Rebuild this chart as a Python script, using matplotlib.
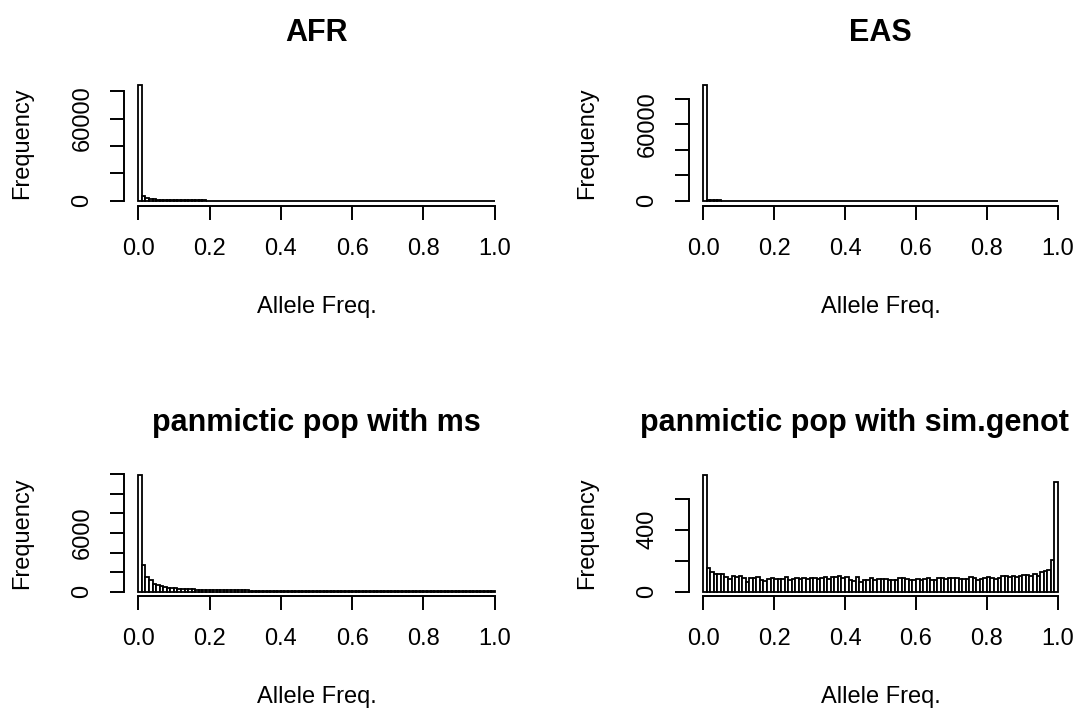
import numpy as np
import matplotlib.pyplot as plt

plt.rcParams['font.family'] = ['Liberation Sans', 'DejaVu Sans']

# histogram breaks: 100 bins of width 0.01 on [0, 1]
bin_width = 0.01
bin_left = np.arange(100) * bin_width

# counts (small tail values are estimates)
afr_counts = [84500, 3700, 2000, 1400, 1050, 850, 700, 600, 520, 460,
              420, 390, 360, 340, 320, 300, 290, 280, 270, 260,
              250, 240, 235, 230, 225, 220, 215, 210, 205, 200,
              198, 196, 194, 192, 190, 188, 186, 184, 182, 180,
              178, 176, 175, 174, 173, 172, 171, 170, 169, 168,
              167, 166, 165, 164, 163, 162, 161, 160, 160, 160,
              160, 160, 160, 160, 160, 160, 160, 160, 160, 160,
              160, 160, 160, 160, 160, 160, 160, 160, 160, 160,
              160, 160, 160, 160, 160, 160, 160, 160, 160, 160,
              160, 160, 160, 160, 160, 160, 160, 170, 180, 200]
eas_counts = [91000, 900, 500, 380, 300, 260, 230, 210, 190, 180,
              170, 160, 150, 145, 140, 135, 130, 125, 120, 118,
              116, 114, 112, 110, 108, 106, 104, 102, 100, 100,
              100, 100, 100, 100, 100, 100, 100, 100, 100, 100,
              100, 100, 100, 100, 100, 100, 100, 100, 100, 100,
              100, 100, 100, 100, 100, 100, 100, 100, 100, 100,
              100, 100, 100, 100, 100, 100, 100, 100, 100, 100,
              100, 100, 100, 100, 100, 100, 100, 100, 100, 100,
              100, 100, 100, 100, 100, 100, 100, 100, 100, 100,
              100, 100, 100, 100, 100, 100, 100, 110, 120, 140]
ms_counts = [11900, 2690, 1500, 1160, 820, 680, 580, 480, 410, 370,
             340, 310, 290, 270, 250, 235, 222, 210, 200, 190,
             182, 175, 168, 162, 156, 150, 145, 140, 136, 132,
             128, 124, 121, 118, 115, 112, 110, 108, 106, 104,
             102, 100, 98, 96, 94, 92, 90, 88, 86, 84,
             82, 80, 79, 78, 77, 76, 75, 74, 73, 72,
             71, 70, 69, 68, 67, 66, 65, 64, 63, 62,
             61, 60, 59, 58, 57, 56, 55, 54, 53, 52,
             52, 51, 51, 50, 50, 49, 49, 48, 48, 47,
             47, 46, 46, 45, 45, 44, 44, 43, 43, 42]
simgenot_counts = [753, 155, 128, 112, 113, 116, 92, 84, 104, 97,
                   100, 86, 62, 90, 86, 92, 78, 72, 84, 86,
                   84, 82, 80, 92, 78, 80, 88, 84, 86, 84,
                   90, 86, 84, 90, 98, 82, 94, 96, 100, 90,
                   92, 76, 72, 92, 64, 74, 78, 86, 76, 80,
                   82, 80, 78, 74, 74, 90, 90, 82, 76, 78,
                   80, 76, 84, 86, 76, 74, 86, 88, 84, 86,
                   88, 90, 80, 82, 84, 92, 90, 74, 84, 90,
                   92, 90, 82, 90, 100, 104, 96, 104, 92, 100,
                   108, 110, 102, 112, 100, 126, 134, 142, 202, 710]

titles = ['AFR', 'EAS', 'panmictic pop with ms', 'panmictic pop with sim.genot']
all_counts = [afr_counts, eas_counts, ms_counts, simgenot_counts]
x_ticks = [0.0, 0.2, 0.4, 0.6, 0.8, 1.0]
y_ticks = [[0, 20000, 40000, 60000, 80000],
           [0, 20000, 40000, 60000, 80000],
           [0, 2000, 4000, 6000, 8000, 10000, 12000],
           [0, 200, 400, 600]]
y_labelled = [[0, 60000], [0, 60000], [0, 6000], [0, 400]]

W, H = 1086, 711
fig = plt.figure(figsize=(W / 100, H / 100), dpi=100)

# plot regions in pixels: left, top, width, height
boxes = [(124, 80.3, 385, 125.2), (689, 80.3, 383, 125.2),
         (124, 470.4, 385, 126), (689, 470.4, 383, 126)]

px = 0.72  # points per pixel at dpi 100
fs = 17

for i, (l, t, w, h) in enumerate(boxes):
    ax = fig.add_axes([l / W, 1 - (t + h) / H, w / W, h / H])
    counts = all_counts[i]
    ax.bar(bin_left, counts, width=bin_width, align='edge',
           color='white', edgecolor='black', linewidth=1.3)
    top = max(counts)
    ax.set_xlim(-0.04, 1.04)
    ax.set_ylim(-0.04 * top, 1.04 * top)

    for s in ['top', 'right']:
        ax.spines[s].set_visible(False)
    ax.spines['left'].set_bounds(y_ticks[i][0], y_ticks[i][-1])
    ax.spines['bottom'].set_bounds(0, 1)
    for s in ['left', 'bottom']:
        ax.spines[s].set_linewidth(1.4)

    ax.set_xticks(x_ticks)
    ax.set_xticklabels([f'{v:.1f}' for v in x_ticks])
    ax.set_yticks(y_ticks[i])
    ax.set_yticklabels([str(v) if v in y_labelled[i] else '' for v in y_ticks[i]],
                       rotation=90, va='center')
    ax.tick_params(direction='out', length=14 * px, width=1.4, labelsize=fs)
    ax.tick_params(axis='x', pad=13)
    ax.tick_params(axis='y', pad=12)

    title_kw = dict(xycoords='axes fraction', textcoords='offset points',
                    fontsize=22, fontweight='bold', va='center')
    if i == 3:
        # title runs off the right edge in the original
        ax.annotate(titles[i], xy=(0, 1), xytext=((640 - l) * px, 47 * px),
                    ha='left', **title_kw)
    else:
        ax.annotate(titles[i], xy=(0.5, 1), xytext=(0, 47 * px),
                    ha='center', **title_kw)
    ax.annotate('Allele Freq.', xy=(0.5, 0), xycoords='axes fraction',
                xytext=(0, -101 * px), textcoords='offset points',
                ha='center', va='center', fontsize=fs)
    ax.annotate('Frequency', xy=(0, 0.5), xycoords='axes fraction',
                xytext=(-102 * px, 0), textcoords='offset points',
                ha='center', va='center', rotation=90, fontsize=fs)

fig.savefig('out.png', dpi=100)
